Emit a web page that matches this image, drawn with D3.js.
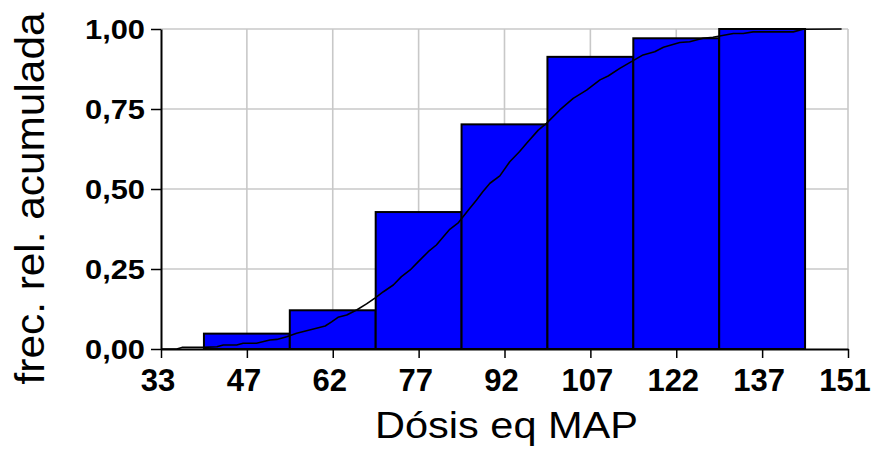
<!DOCTYPE html>
<html>
<head>
<meta charset="utf-8">
<script src="https://cdn.jsdelivr.net/npm/d3@7/dist/d3.min.js"></script>
<style>
  html, body { margin: 0; padding: 0; background: #fff; }
  svg { display: block; }
  text { font-family: "Liberation Sans", Arial, sans-serif; fill: #000; }
</style>
</head>
<body>
<svg id="chart" width="874" height="451"></svg>
<script>
// Cumulative relative frequency of the equivalent MAP dose
const xTickValues = [33, 47.75, 62.5, 77.25, 92, 106.75, 121.5, 136.25, 151];
const xTickLabels = ["33", "47", "62", "77", "92", "107", "122", "137", "151"];
const yTickValues = [0, 0.25, 0.5, 0.75, 1];
const yTickLabels = ["0,00", "0,25", "0,50", "0,75", "1,00"];

// Histogram classes (lower and upper limits) and cumulative relative frequency
const binLower = [40.375, 55.125, 69.875, 84.625, 99.375, 114.125, 128.875];
const binUpper = [55.125, 69.875, 84.625, 99.375, 114.125, 128.875, 143.625];
const cumFreq = [0.048, 0.121, 0.428, 0.702, 0.913, 0.971, 1.0];

// Empirical cumulative distribution curve
const curveX = [33.0, 35.7, 36.6, 40.3, 42.6, 43.7, 46.0, 47.1, 49.4, 51.7, 52.9, 54.6,
  56.3, 58.0, 59.7, 61.2, 62.3, 63.4, 64.9, 66.6, 68.3, 69.8, 71.2, 72.9, 74.3, 75.8,
  77.2, 78.9, 80.3, 81.5, 82.6, 84.1, 85.8, 87.2, 88.3, 89.5, 91.2, 92.9, 94.6, 95.8,
  97.8, 99.2, 101.5, 103.8, 106.1, 108.4, 109.8, 111.8, 113.8, 115.8, 117.8, 119.3,
  122.1, 123.8, 126.1, 127.8, 131.3, 133.0, 134.7, 141.6, 143.3, 149.9];
const curveY = [0, 0, 0.005, 0.005, 0.007, 0.0125, 0.0125, 0.018, 0.018, 0.028, 0.030, 0.038,
  0.049, 0.057, 0.065, 0.072, 0.085, 0.099, 0.106, 0.122, 0.141, 0.160, 0.179, 0.200, 0.226, 0.247,
  0.273, 0.304, 0.325, 0.351, 0.374, 0.395, 0.434, 0.466, 0.492, 0.518, 0.541, 0.585, 0.617, 0.643,
  0.684, 0.705, 0.747, 0.783, 0.809, 0.841, 0.853, 0.877, 0.898, 0.919, 0.929, 0.943,
  0.958, 0.960, 0.971, 0.974, 0.986, 0.986, 0.991, 0.991, 0.999, 1.0];

const xTitle = "Dósis eq MAP";
const yTitle = "frec. rel. acumulada";

const svg = d3.select("#chart");
const plotLeft = 161, plotRight = 848, plotTop = 29, plotBottom = 349;

const x = d3.scaleLinear().domain([33, 151]).range([plotLeft, plotRight]);
const y = d3.scaleLinear().domain([0, 1]).range([plotBottom, plotTop]);

// Grid
const grid = svg.append("g").attr("stroke", "#c8c8c8").attr("stroke-width", 1.6);
grid.selectAll("line.v").data(xTickValues.slice(1)).join("line")
  .attr("class", "v")
  .attr("x1", d => x(d)).attr("x2", d => x(d))
  .attr("y1", plotTop).attr("y2", plotBottom);
grid.selectAll("line.h").data(yTickValues.slice(1)).join("line")
  .attr("class", "h")
  .attr("x1", plotLeft).attr("x2", plotRight)
  .attr("y1", d => y(d)).attr("y2", d => y(d));

// Bars
svg.append("g").selectAll("rect").data(cumFreq).join("rect")
  .attr("x", (d, i) => x(binLower[i]))
  .attr("width", (d, i) => x(binUpper[i]) - x(binLower[i]))
  .attr("y", d => y(d))
  .attr("height", d => y(0) - y(d))
  .attr("fill", "#0000ff")
  .attr("stroke", "#000")
  .attr("stroke-width", 2);

// Cumulative curve
const line = d3.line().x(d => x(d[0])).y(d => y(d[1]));
svg.append("path")
  .datum(curveX.map((v, i) => [v, curveY[i]]))
  .attr("d", line)
  .attr("fill", "none")
  .attr("stroke", "#000")
  .attr("stroke-width", 1.6)
  .attr("stroke-linejoin", "round");

// Axes
const xAxis = d3.axisBottom(x).tickValues(xTickValues)
  .tickFormat((d, i) => xTickLabels[i]).tickSize(9).tickSizeOuter(0).tickPadding(6);
const gx = svg.append("g").attr("transform", `translate(0,${plotBottom})`).call(xAxis);
gx.select(".domain").attr("stroke", "#000").attr("stroke-width", 2.2);
gx.selectAll(".tick line").attr("stroke", "#000").attr("stroke-width", 1.5);
gx.selectAll(".tick text")
  .attr("font-size", 31).attr("font-weight", "bold")
  .attr("font-family", "Liberation Sans, Arial, sans-serif")
  .attr("dy", null).attr("y", 42).attr("x", -3.5);

const yAxis = d3.axisLeft(y).tickValues(yTickValues)
  .tickFormat((d, i) => yTickLabels[i]).tickSize(10).tickSizeOuter(0).tickPadding(6);
const gy = svg.append("g").attr("transform", `translate(${plotLeft},0)`).call(yAxis);
gy.select(".domain").attr("stroke", "#000").attr("stroke-width", 2);
gy.selectAll(".tick line").attr("stroke", "#000").attr("stroke-width", 1.5);
gy.selectAll(".tick text")
  .attr("font-size", 28).attr("font-weight", "bold")
  .attr("font-family", "Liberation Sans, Arial, sans-serif")
  .attr("dy", null).attr("y", 9.5).attr("x", -16)
  .attr("textLength", 60).attr("lengthAdjust", "spacingAndGlyphs");

// Axis titles
svg.append("text")
  .attr("x", 506.5).attr("y", 438)
  .attr("text-anchor", "middle")
  .attr("font-size", 37)
  .attr("textLength", 263).attr("lengthAdjust", "spacingAndGlyphs")
  .text(xTitle);

svg.append("text")
  .attr("transform", "translate(44,198.5) rotate(-90)")
  .attr("text-anchor", "middle")
  .attr("font-size", 40)
  .attr("textLength", 372).attr("lengthAdjust", "spacingAndGlyphs")
  .text(yTitle);
</script>
</body>
</html>
